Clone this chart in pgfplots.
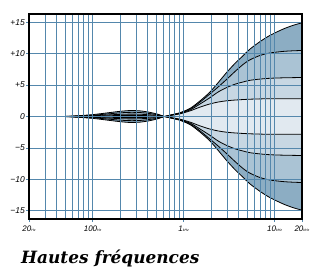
\documentclass[border=0pt]{standalone}
\usepackage{fontspec}
\setmainfont{Liberation Sans}
\newfontfamily\titlefont{DejaVu Serif}
\usepackage{pgfplots}
\usepackage{pgfplotstable}
\pgfplotsset{compat=1.18}
\definecolor{gridc}{RGB}{84,135,172}
\definecolor{cA}{RGB}{140,173,195}
\definecolor{cB}{RGB}{170,195,212}
\definecolor{cC}{RGB}{199,215,227}
\definecolor{cD}{RGB}{225,233,240}
\newcommand\hz{{\fontsize{3.5}{4}\selectfont Hz}}
\newcommand\khz{{\fontsize{3.5}{4}\selectfont kHz}}
\pgfplotstableread{
f p15 p10 p6 p3 n3 n6 n10 n15
20 0 0 0 0 0 0 0 0
45 0 0 0 0 0 0 0 0
65 -0.1 -0.07 -0.04 -0.02 0.02 0.04 0.07 0.1
100 -0.3 -0.2 -0.12 -0.06 0.06 0.12 0.2 0.3
150 -0.6 -0.42 -0.25 -0.12 0.12 0.25 0.42 0.6
200 -0.82 -0.58 -0.34 -0.16 0.16 0.34 0.58 0.82
260 -0.95 -0.66 -0.38 -0.18 0.18 0.38 0.66 0.95
330 -0.9 -0.63 -0.36 -0.17 0.17 0.36 0.63 0.9
420 -0.68 -0.48 -0.28 -0.13 0.13 0.28 0.48 0.68
520 -0.36 -0.26 -0.15 -0.07 0.07 0.15 0.26 0.36
620 0 0 0 0 0 0 0 0
750 0.3 0.28 0.25 0.2 -0.2 -0.25 -0.28 -0.3
910 0.6 0.55 0.5 0.42 -0.42 -0.5 -0.55 -0.6
1180 1.3 1.2 1.05 0.9 -0.9 -1.05 -1.2 -1.3
1520 2.5 2.3 2.0 1.5 -1.5 -2.0 -2.3 -2.5
1950 3.9 3.6 3.0 2.0 -2.0 -3.0 -3.6 -3.9
2400 5.4 4.7 3.9 2.3 -2.3 -3.9 -4.7 -5.4
2970 7.0 5.9 4.6 2.5 -2.5 -4.6 -5.9 -7.0
3700 8.5 7.2 5.15 2.62 -2.62 -5.15 -7.2 -8.5
4530 9.7 8.3 5.5 2.7 -2.7 -5.5 -8.3 -9.7
5340 10.7 9.0 5.75 2.75 -2.75 -5.75 -9.0 -10.7
6900 11.9 9.7 5.95 2.8 -2.8 -5.95 -9.7 -11.9
8900 12.9 10.1 6.08 2.82 -2.82 -6.08 -10.1 -12.9
12400 13.9 10.35 6.15 2.83 -2.83 -6.15 -10.35 -13.9
16000 14.5 10.45 6.18 2.83 -2.83 -6.18 -10.45 -14.5
20000 14.9 10.5 6.2 2.83 -2.83 -6.2 -10.5 -14.9
}\eq
\begin{document}
\begin{tikzpicture}
\begin{axis}[
  scale only axis, width=273bp, height=205bp,
  xmode=log, xmin=20, xmax=20000, ymin=-16.3, ymax=16.3,
  axis on top,
  axis line style={line width=2.2bp},
  xtick={20,100,1000,10000,20000},
  xticklabels={20\hz,100\hz,1\khz,10\khz,20\khz},
  minor xtick={30,40,50,60,70,80,90,200,300,400,500,600,700,800,900,2000,3000,4000,5000,6000,7000,8000,9000},
  ytick={-15,-10,-5,0,5,10,15},
  yticklabels={−15,−10,−5,0,+5,+10,+15},
  xtick pos=bottom, ytick pos=left,
  grid=both,
  grid style={line width=0.8bp, gridc},
  minor grid style={line width=0.8bp, gridc},
  major tick length=3bp, minor tick length=0bp,
  tick align=outside,
  tick style={line width=0.8bp, gridc},
  yticklabel style={font=\itshape\fontsize{8.5}{9}\selectfont, inner sep=1bp},
  xticklabel style={font=\itshape\fontsize{8}{9}\selectfont, inner sep=1bp, yshift=-3bp},
]
\coordinate (SW) at (rel axis cs:0,0);
\addplot[fill=cA, draw=none, smooth] table[x=f,y=p15]{\eq} \closedcycle;
\addplot[fill=cA, draw=none, smooth] table[x=f,y=n15]{\eq} \closedcycle;
\addplot[fill=cB, draw=none, smooth] table[x=f,y=p10]{\eq} \closedcycle;
\addplot[fill=cB, draw=none, smooth] table[x=f,y=n10]{\eq} \closedcycle;
\addplot[fill=cC, draw=none, smooth] table[x=f,y=p6]{\eq} \closedcycle;
\addplot[fill=cC, draw=none, smooth] table[x=f,y=n6]{\eq} \closedcycle;
\addplot[fill=cD, draw=none, smooth] table[x=f,y=p3]{\eq} \closedcycle;
\addplot[fill=cD, draw=none, smooth] table[x=f,y=n3]{\eq} \closedcycle;
\foreach \c in {p15,p10,p6,p3,n3,n6,n10,n15}{
  \addplot[black, line width=0.8bp, smooth] table[x=f,y=\c]{\eq};
}
\addplot[black, line width=0.8bp] coordinates {(20,0) (20000,0)};
\end{axis}
\path (SW) ++(-29bp,-49bp) rectangle ++(311bp,268bp);
\node[anchor=base west, inner sep=0, font=\titlefont\bfseries\itshape\fontsize{17}{20}\selectfont] at ([xshift=-8bp,yshift=-44bp]SW) {Hautes fréquences};
\end{tikzpicture}
\end{document}
